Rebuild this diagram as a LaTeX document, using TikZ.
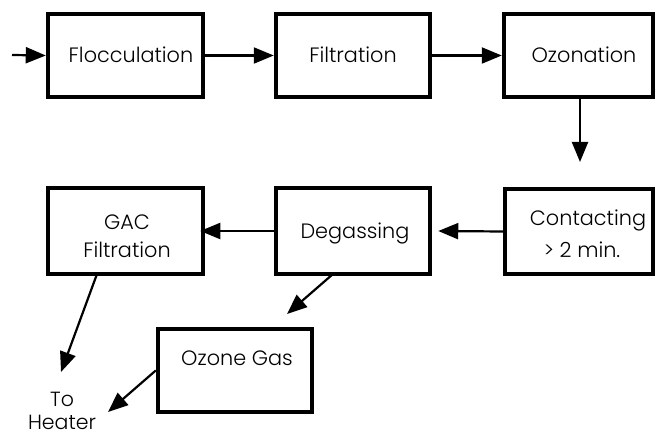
\documentclass[tikz,border=0pt]{standalone}
\usepackage{fontspec}
\setmainfont{Poppins}[UprightFont=* Light]
\usetikzlibrary{arrows.meta}
\begin{document}
\begin{tikzpicture}[x=1pt,y=-1pt,
  box/.style={draw,line width=4.5pt,inner sep=0pt,minimum width=154pt,minimum height=86pt},
  txt/.style={font=\fontsize{20.8}{28}\selectfont,inner sep=0pt,align=center},
  arr/.style={line width=2.2pt,-{Triangle[length=20pt,width=16pt]}}]
\useasboundingbox (0,0) rectangle (655,435);
\node[box,minimum width=155pt,minimum height=83pt] (floc) at (125.5,55.5) {};
\node[box,minimum height=83pt] (filt) at (353,55.5) {};
\node[box,minimum width=149pt,minimum height=83pt] (oz) at (578.5,55.5) {};
\node[box,minimum width=148pt,minimum height=85pt] (cont) at (579,231.5) {};
\node[box] (deg) at (353,231) {};
\node[box,minimum width=155pt] (gac) at (125.5,231) {};
\node[box,minimum height=83pt] (ozg) at (235,370.5) {};
\node[txt] (tfloc) at (131,55) {Flocculation};
\node[txt] (tfilt) at (353,55) {Filtration};
\node[txt] (toz) at (584,55) {Ozonation};
\node[txt] (tcont) at (588,220) {Contacting};
\node[txt] (tmin) at (582,250) {> 2 min.};
\node[txt] (tdeg) at (355,233) {Degassing};
\node[txt] (tgac) at (127,236) {GAC\\Filtration};
\node[txt,font=\fontsize{20.5}{23}\selectfont] (heater) at (62,410.5) {To\\Heater};
\node[txt] (tozg) at (237,358) {Ozone Gas};
\coordinate (in) at (12,55);
\coordinate (ozend) at (580,162);
\coordinate (ozgin) at (287,314);
\coordinate (hA) at (61,372);
\coordinate (hB) at (108,412);
\coordinate (degout) at (333,274);
\coordinate (gacout) at (97,274);
\draw[arr] (in) -- (floc.west);
\draw[arr] (floc.east) -- (filt.west);
\draw[arr] (filt.east) -- (oz.west);
\draw[arr] (oz.south -| ozend) -- (ozend);
\draw[arr] (cont.west) -- ([xshift=6pt]deg.east);
\draw[arr] (deg.west) -- ([xshift=-5pt]gac.east);
\draw[arr] (degout) -- (ozgin);
\draw[arr] (gacout) -- (hA);
\draw[arr] (ozg.west) -- (hB);
\end{tikzpicture}
\end{document}
